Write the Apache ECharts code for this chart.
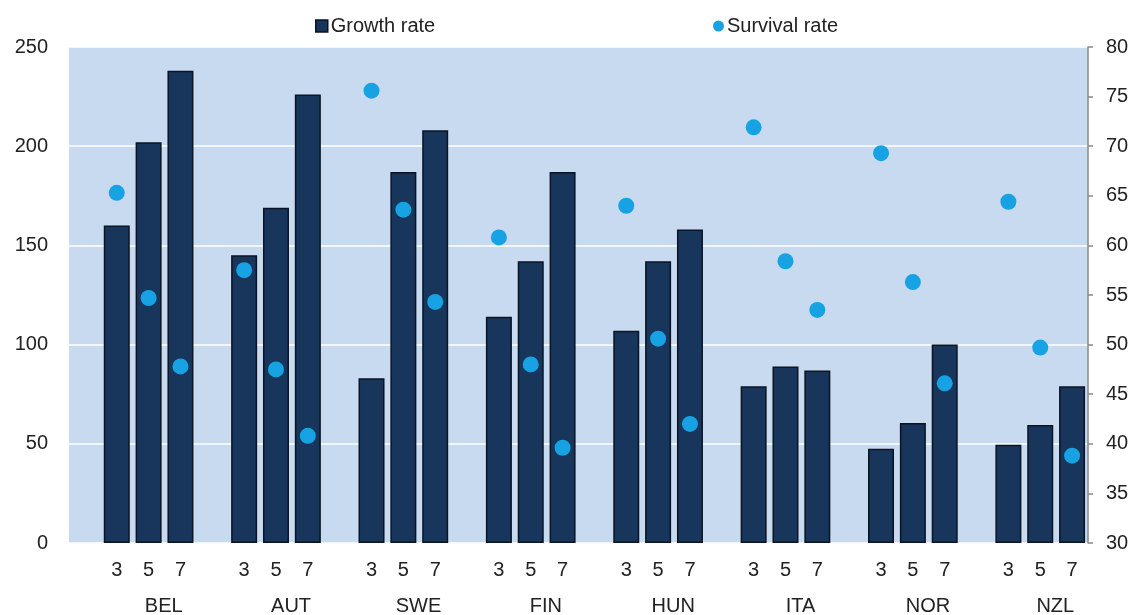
<!DOCTYPE html>
<html>
<head>
<meta charset="utf-8">
<script src="https://cdn.jsdelivr.net/npm/echarts@6/dist/echarts.min.js"></script>
<style>
  html, body { margin: 0; padding: 0; background: #fff; }
  #chart { width: 1136px; height: 615px; }
</style>
</head>
<body>
<div id="chart"></div>
<script>
const countries = ["BEL", "AUT", "SWE", "FIN", "HUN", "ITA", "NOR", "NZL"];
const years = ["3", "5", "7"];
// growth rate per country, years 3/5/7 (left axis)
const growth = [
  [160, 202, 238],
  [145, 169, 226],
  [83, 187, 208],
  [114, 142, 187],
  [107, 142, 158],
  [79, 89, 87],
  [47.5, 60.5, 100],
  [49.5, 59.5, 79],
];
// survival rate per country, years 3/5/7 (right axis)
const survival = [
  [65.3, 54.7, 47.8],
  [57.5, 47.5, 40.8],
  [75.6, 63.6, 54.3],
  [60.8, 48.0, 39.6],
  [64.0, 50.6, 42.0],
  [71.9, 58.4, 53.5],
  [69.3, 56.3, 46.1],
  [64.4, 49.7, 38.8],
];

// each group: an empty slot then the three years
const slots = [], growthData = [], survivalData = [];
countries.forEach((c, i) => {
  slots.push(""); growthData.push(null); survivalData.push(null);
  years.forEach((y, j) => {
    slots.push(y);
    growthData.push(growth[i][j]);
    survivalData.push(survival[i][j]);
  });
});

const font = "Liberation Sans, Arial, sans-serif";
const textColor = "#222";
const chart = echarts.init(document.getElementById("chart"));
chart.setOption({
  animation: false,
  textStyle: { fontFamily: font },
  legend: [
    {
      data: [{ name: "Growth rate", icon: "rect", itemStyle: { borderColor: "#0a1422", borderWidth: 1.5 } }],
      left: 310, top: 11, itemWidth: 12, itemHeight: 12, itemGap: 4,
      textStyle: { fontSize: 20, color: textColor, fontFamily: font, padding: [0, 0, 0, -2] },
    },
    {
      data: [{ name: "Survival rate", icon: "circle" }],
      left: 708, top: 11, itemWidth: 11, itemHeight: 11,
      textStyle: { fontSize: 20, color: textColor, fontFamily: font, padding: [0, 0, 0, -2] },
    },
  ],
  grid: {
    left: 69, right: 48, top: 47, bottom: 72, outerBoundsMode: "none",
    show: true, backgroundColor: "#c8daf0", borderWidth: 0,
  },
  xAxis: [
    {
      type: "category", data: slots,
      axisLine: { show: false }, axisTick: { show: false },
      axisLabel: { interval: 0, fontSize: 20, color: textColor, margin: 17 },
    },
    {
      type: "category", data: countries, position: "bottom",
      axisLine: { show: false }, axisTick: { show: false },
      axisLabel: { interval: 0, fontSize: 20, color: textColor, margin: 53, padding: [0, 0, 0, 62] },
    },
  ],
  yAxis: [
    {
      type: "value", min: 0, max: 250, interval: 50,
      axisLine: { show: false }, axisTick: { show: false },
      axisLabel: { fontSize: 20, color: textColor, margin: 21 },
      splitLine: { lineStyle: { color: "#ffffff", width: 1.5 } },
    },
    {
      type: "value", min: 30, max: 80, interval: 5, position: "right",
      axisLine: { show: true, lineStyle: { color: "#8a8a8a", width: 1.5 } },
      axisTick: { show: true, length: 5, lineStyle: { color: "#8a8a8a", width: 1.5 } },
      axisLabel: { fontSize: 20, color: textColor, margin: 18 },
      splitLine: { show: false },
    },
  ],
  series: [
    {
      name: "Growth rate", type: "bar", xAxisIndex: 0, yAxisIndex: 0,
      data: growthData, barWidth: 26,
      itemStyle: { color: "#18355c", borderColor: "#0a1422", borderWidth: 1.5 },
    },
    {
      name: "Survival rate", type: "scatter", xAxisIndex: 0, yAxisIndex: 1,
      data: survivalData, symbolSize: 16, z: 3,
      itemStyle: { color: "#17a3e3", opacity: 1 },
    },
  ],
});
</script>
</body>
</html>
